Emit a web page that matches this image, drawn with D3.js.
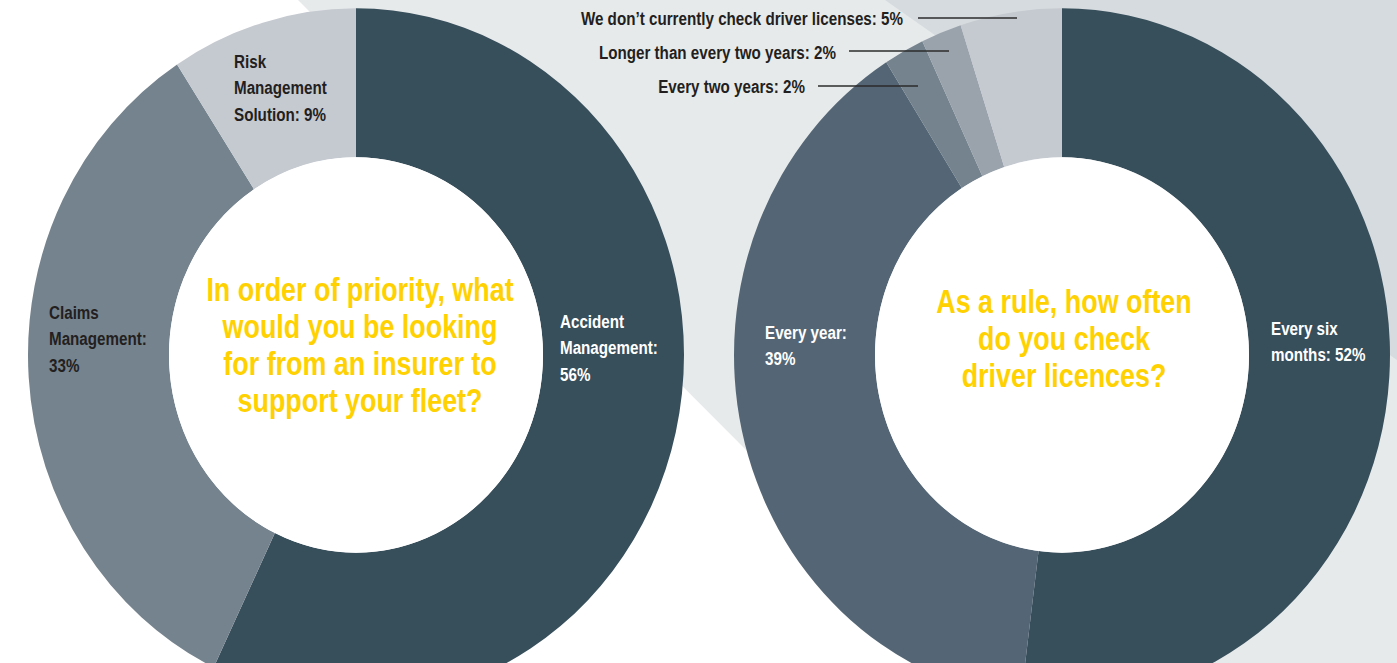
<!DOCTYPE html>
<html>
<head>
<meta charset="utf-8">
<script src="https://cdn.jsdelivr.net/npm/d3@7"></script>
<style>
  html, body { margin: 0; padding: 0; background: #ffffff; }
  svg { display: block; }
  text { font-family: "Liberation Sans", Arial, sans-serif; font-weight: bold; }
</style>
</head>
<body>
<svg id="chart" width="1397" height="663"></svg>
<script>
// ---- Survey results -------------------------------------------------------
// Left ring: insurer support priorities
const priorityCategories = ["Accident Management", "Claims Management", "Risk Management Solution"];
const priorityValues = [56, 33, 9];
const priorityLabelLines = [
  ["Accident", "Management:", "{v}%"],
  ["Claims", "Management:", "{v}%"],
  ["Risk", "Management", "Solution: {v}%"]
];
const priorityQuestion = ["In order of priority, what", "would you be looking", "for from an insurer to", "support your fleet?"];

// Right ring: licence check frequency
const checkCategories = ["Every six months", "Every year", "Every two years", "Longer than every two years", "We don’t currently check driver licenses"];
const checkValues = [52, 39, 2, 2, 5];
const checkLabelLines = [
  ["Every six", "months: {v}%"],
  ["Every year:", "{v}%"],
  ["Every two years: {v}%"],
  ["Longer than every two years: {v}%"],
  ["We don’t currently check driver licenses: {v}%"]
];
const checkQuestion = ["As a rule, how often", "do you check", "driver licences?"];

// ---- Styling ---------------------------------------------------------------
const priorityColors = ["#374e5b", "#75838e", "#c5c9d0"];
const checkColors = ["#374e5b", "#546675", "#75838e", "#9aa3ac", "#c5c9d0"];
const yellow = "#ffd100";
const darkText = "#231f20";

const W = 1397, H = 663;
const svg = d3.select("#chart");

// Backdrop panels
svg.append("rect").attr("width", W).attr("height", H).attr("fill", "#ffffff");
svg.append("polygon")
  .attr("points", [[298, 0], [W, 0], [W, H], [958, H]].map(p => p.join(",")).join(" "))
  .attr("fill", "#e7eaeb");
svg.append("polygon")
  .attr("points", [[885, 0], [W, 0], [W, 360]].map(p => p.join(",")).join(" "))
  .attr("fill", "#d5dbde");

// Ring geometry
const cy = 355, stretch = 1.057;
const outerR = 328, innerR = 187;
const pie = d3.pie().sort(null).value(d => d);
const arc = d3.arc().innerRadius(innerR).outerRadius(outerR);

function ring(cx, values, colors) {
  const g = svg.append("g").attr("transform", `translate(${cx},${cy}) scale(1,${stretch})`);
  g.selectAll("path.slice")
    .data(pie(values))
    .join("path")
    .attr("class", "slice")
    .attr("d", arc)
    .attr("fill", (d, i) => colors[i]);
  g.append("circle").attr("r", innerR).attr("fill", "#ffffff");
}

// Condensed multi-line text block (horizontal squeeze gives the narrow face)
function multiline(x, y, lines, opts) {
  const t = svg.append("text")
    .attr("transform", `translate(${x},${y}) scale(${opts.sx || 1},1)`)
    .attr("font-size", opts.size)
    .attr("fill", opts.fill)
    .attr("text-anchor", opts.anchor || "start");
  lines.forEach((line, i) => {
    t.append("tspan").attr("x", 0).attr("y", i * opts.lh).text(line);
  });
  return t;
}

const fill = (lines, v) => lines.map(s => s.replace("{v}", v));

const titleStyle = { size: 33, lh: 37, fill: yellow, anchor: "middle", sx: 0.815 };
const labelStyle = { size: 19, lh: 26.5, sx: 0.8 };

// ---- Left ring -------------------------------------------------------------
const leftCx = 356;
ring(leftCx, priorityValues, priorityColors);
multiline(leftCx + 4, 301, priorityQuestion, titleStyle);

const priorityLabelPos = [[560, 328], [49, 319], [234, 68]];
const priorityLabelFill = ["#ffffff", darkText, darkText];
priorityLabelLines.forEach((lines, i) => {
  multiline(priorityLabelPos[i][0], priorityLabelPos[i][1], fill(lines, priorityValues[i]),
    Object.assign({}, labelStyle, { fill: priorityLabelFill[i] }));
});

// ---- Right ring ------------------------------------------------------------
const rightCx = 1062;
ring(rightCx, checkValues, checkColors);
multiline(rightCx + 2, 313, checkQuestion, titleStyle);

// In-ring labels for the two large slices
[[1271, 335], [765, 339]].forEach((p, i) => {
  multiline(p[0], p[1], fill(checkLabelLines[i], checkValues[i]),
    Object.assign({}, labelStyle, { fill: "#ffffff" }));
});

// Call-out labels with leader lines for the three thin slices
const callouts = [
  { i: 2, textEnd: 805, y: 93, lineFrom: 818, lineTo: 918, lineY: 86 },
  { i: 3, textEnd: 836, y: 59, lineFrom: 849, lineTo: 949, lineY: 51 },
  { i: 4, textEnd: 903, y: 25, lineFrom: 918, lineTo: 1017, lineY: 18 }
];
callouts.forEach(c => {
  multiline(c.textEnd, c.y, fill(checkLabelLines[c.i], checkValues[c.i]),
    Object.assign({}, labelStyle, { fill: darkText, anchor: "end" }));
  svg.append("line")
    .attr("x1", c.lineFrom).attr("x2", c.lineTo)
    .attr("y1", c.lineY).attr("y2", c.lineY)
    .attr("stroke", "#2b2b2b").attr("stroke-width", 1.4);
});
</script>
</body>
</html>
